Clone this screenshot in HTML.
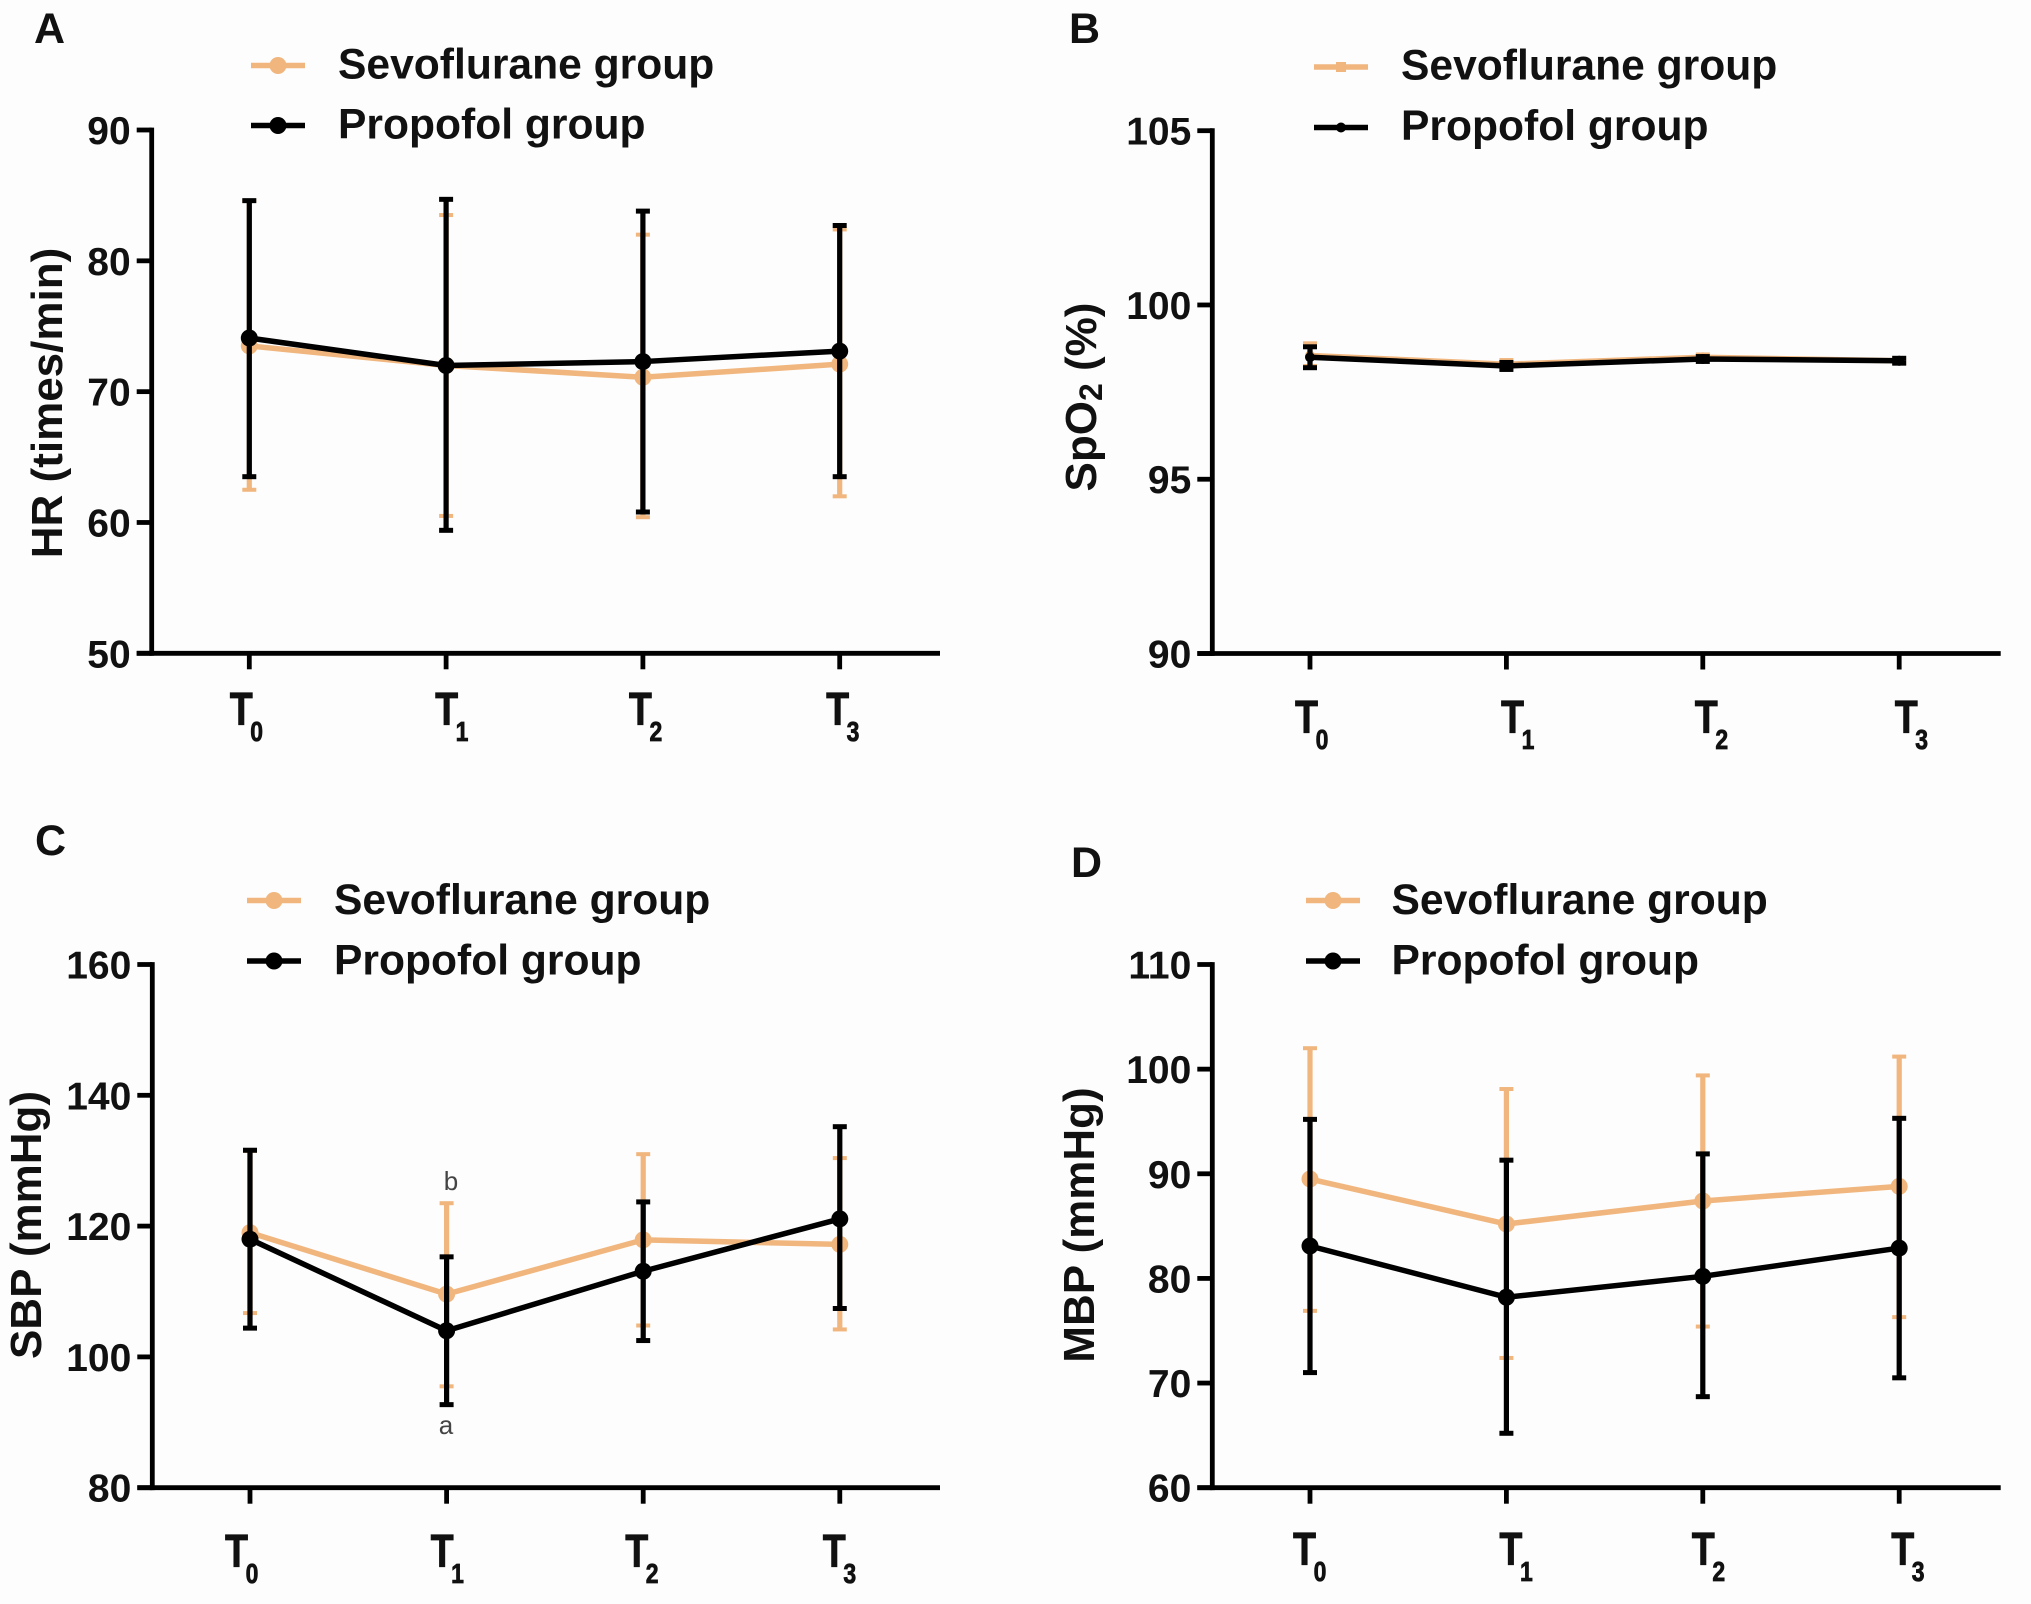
<!DOCTYPE html>
<html lang="en">
<head>
<meta charset="utf-8">
<title>Hemodynamic comparison of sevoflurane and propofol groups</title>
<style>
html,body{margin:0;padding:0;background:#fdfdfd;}
svg{display:block;}
text{font-family:"Liberation Sans",sans-serif;font-weight:bold;fill:#111;}
.legend-text{font-size:42.6px;}
.axis-title{font-size:44px;text-anchor:middle;}
.panel-letter{font-size:43px;}
.tick{font-size:39px;text-anchor:end;}
.note{font-size:26px;font-weight:normal;fill:#444;text-anchor:middle;}
</style>
</head>
<body>
<svg id="figure" xmlns="http://www.w3.org/2000/svg" width="2031" height="1604" viewBox="0 0 2031 1604">
  <rect x="0" y="0" width="2031" height="1604" fill="#fdfdfd"/>

  <g id="panel-a">
    <text class="panel-letter" x="34" y="43">A</text>
    <g>
      <line x1="251" x2="305" y1="65.5" y2="65.5" stroke="#f0b67e" stroke-width="5.5"/>
      <circle cx="278" cy="65.5" r="8.5" fill="#f0b67e"/>
      <text class="legend-text" x="338" y="78.5">Sevoflurane group</text>
      <line x1="251" x2="305" y1="125.5" y2="125.5" stroke="#000" stroke-width="5.5"/>
      <circle cx="278" cy="125.5" r="8.5" fill="#000"/>
      <text class="legend-text" x="338" y="138.5">Propofol group</text>
    </g>
    <text class="axis-title" transform="translate(62,403) rotate(-90)">HR (times/min)</text>
  </g>

  <g id="panel-b">
    <text class="panel-letter" x="1069" y="43">B</text>
    <g>
      <line x1="1314" x2="1368" y1="67" y2="67" stroke="#f0b67e" stroke-width="5.5"/>
      <rect x="1336" y="62" width="10" height="10" fill="#f0b67e"/>
      <text class="legend-text" x="1401" y="79.5">Sevoflurane group</text>
      <line x1="1314" x2="1368" y1="127.5" y2="127.5" stroke="#000" stroke-width="5.5"/>
      <circle cx="1341" cy="127.5" r="5" fill="#000"/>
      <text class="legend-text" x="1401" y="140">Propofol group</text>
    </g>
    <text class="axis-title" transform="translate(1096,397) rotate(-90)">SpO<tspan font-size="32" dy="6">2</tspan><tspan dy="-6"> (%)</tspan></text>
  </g>

  <g id="panel-c">
    <text class="panel-letter" x="35" y="855">C</text>
    <g>
      <line x1="247" x2="301" y1="900.5" y2="900.5" stroke="#f0b67e" stroke-width="5.5"/>
      <circle cx="274" cy="900.5" r="8.5" fill="#f0b67e"/>
      <text class="legend-text" x="334" y="914">Sevoflurane group</text>
      <line x1="247" x2="301" y1="961" y2="961" stroke="#000" stroke-width="5.5"/>
      <circle cx="274" cy="961" r="8.5" fill="#000"/>
      <text class="legend-text" x="334" y="974.5">Propofol group</text>
    </g>
    <text class="axis-title" transform="translate(41,1225) rotate(-90)">SBP (mmHg)</text>
    <text class="note" x="451" y="1190">b</text>
    <text class="note" x="446" y="1434">a</text>
  </g>

  <g id="panel-d">
    <text class="panel-letter" x="1071" y="877">D</text>
    <g>
      <line x1="1306" x2="1360" y1="900.5" y2="900.5" stroke="#f0b67e" stroke-width="5.5"/>
      <circle cx="1333" cy="900.5" r="8.5" fill="#f0b67e"/>
      <text class="legend-text" x="1391.5" y="914">Sevoflurane group</text>
      <line x1="1306" x2="1360" y1="961" y2="961" stroke="#000" stroke-width="5.5"/>
      <circle cx="1333" cy="961" r="8.5" fill="#000"/>
      <text class="legend-text" x="1391.5" y="974.5">Propofol group</text>
    </g>
    <text class="axis-title" font-size="43" transform="translate(1094,1225) rotate(-90)">MBP (mmHg)</text>
  </g>
</svg>

<script>
// ---- Shared categories ----
const categories = ['T0', 'T1', 'T2', 'T3'];

// ---- Panel A: HR ----
const hrTicks = [50, 60, 70, 80, 90];
const hrSevoMean = [73.5, 72.0, 71.1, 72.1];
const hrSevoUpper = [84.6, 83.5, 82.0, 82.4];
const hrSevoLower = [62.5, 60.5, 60.4, 62.0];
const hrPropMean = [74.1, 72.0, 72.3, 73.1];
const hrPropUpper = [84.6, 84.7, 83.8, 82.7];
const hrPropLower = [63.5, 59.4, 60.8, 63.5];

// ---- Panel B: SpO2 ----
const spo2Ticks = [90, 95, 100, 105];
const spo2SevoMean = [98.55, 98.3, 98.5, 98.4];
const spo2SevoUpper = [98.9, 98.42, 98.58, 98.47];
const spo2SevoLower = [98.25, 98.18, 98.42, 98.33];
const spo2PropMean = [98.5, 98.25, 98.45, 98.4];
const spo2PropUpper = [98.8, 98.35, 98.52, 98.47];
const spo2PropLower = [98.2, 98.15, 98.38, 98.33];

// ---- Panel C: SBP ----
const sbpTicks = [80, 100, 120, 140, 160];
const sbpSevoMean = [119.0, 109.6, 117.9, 117.2];
const sbpSevoUpper = [131.5, 123.5, 131.0, 130.4];
const sbpSevoLower = [106.7, 95.5, 104.8, 104.2];
const sbpPropMean = [118.0, 104.0, 113.1, 121.1];
const sbpPropUpper = [131.6, 115.3, 123.7, 135.2];
const sbpPropLower = [104.4, 92.7, 102.5, 107.4];

// ---- Panel D: MBP ----
const mbpTicks = [60, 70, 80, 90, 100, 110];
const mbpSevoMean = [89.5, 85.2, 87.4, 88.8];
const mbpSevoUpper = [102.0, 98.1, 99.4, 101.2];
const mbpSevoLower = [76.9, 72.4, 75.4, 76.3];
const mbpPropMean = [83.1, 78.2, 80.2, 82.9];
const mbpPropUpper = [95.2, 91.3, 91.9, 95.3];
const mbpPropLower = [71.0, 65.2, 68.7, 70.5];

const SVG_NS = 'http://www.w3.org/2000/svg';
const SEVO_COLOR = '#f0b67e';
const PROP_COLOR = '#000000';

function make(tag, props, parent) {
  const node = document.createElementNS(SVG_NS, tag);
  Object.keys(props).forEach(function (k) { node.setAttribute(k, props[k]); });
  parent.appendChild(node);
  return node;
}

function drawPanel(cfg) {
  const root = document.getElementById(cfg.id);
  const domainMin = cfg.ticks[0];
  const domainMax = cfg.ticks[cfg.ticks.length - 1];
  const yScale = function (v) {
    return cfg.yBottom - (v - domainMin) / (domainMax - domainMin) * (cfg.yBottom - cfg.yTop);
  };
  const xScale = function (i) {
    return cfg.xFirst + i * cfg.xStep;
  };

  // axes
  const axisY = make('line', {x1: cfg.axisX, x2: cfg.axisX, y1: yScale(domainMax) - 2.4, y2: yScale(domainMin) + 2.4, stroke: '#000', 'stroke-width': 4.8}, root);
  
  
  const axisX = make('line', {x1: cfg.axisX - 15, x2: cfg.axisRight, y1: yScale(domainMin), y2: yScale(domainMin), stroke: '#000', 'stroke-width': 4.8}, root);
  
  

  cfg.ticks.forEach(function (t) {
    const mark = make('line', {x1: cfg.axisX - 15, x2: cfg.axisX, y1: yScale(t), y2: yScale(t), stroke: '#000', 'stroke-width': 4.8}, root);
    
    
    const label = make('text', {class: 'tick', x: cfg.axisX - 21, y: yScale(t) + 14}, root);
    
    
    label.textContent = String(t);
  });

  categories.forEach(function (c, i) {
    const mark = make('line', {x1: xScale(i), x2: xScale(i), y1: yScale(domainMin), y2: yScale(domainMin) + 16, stroke: '#000', 'stroke-width': 4.8}, root);
    
    
    const label = make('text', {transform: 'translate(' + (xScale(i) + cfg.labelDx[i]) + ',' + cfg.labelY + ') scale(0.82,1)', 'font-size': 46, stroke: '#111', 'stroke-width': 0.8}, root);
    
    
    const base = make('tspan', {}, label);
    base.textContent = c.charAt(0);
    const sub = make('tspan', {'font-size': 28, dy: 16, dx: -3}, label);
    sub.textContent = c.slice(1);
  });

  function drawSeries(name, color, mean, upper, lower, capWidth, markerR) {
    const group = make('g', {}, root);
    
    

    mean.forEach(function (m, i) {
      const x = xScale(i);
      const bar = make('line', {x1: x, x2: x, y1: yScale(upper[i]), y2: yScale(lower[i]), stroke: color, 'stroke-width': 5.2}, group);
      
      
      const capTop = make('line', {x1: x - 7, x2: x + 7, y1: yScale(upper[i]), y2: yScale(upper[i]), stroke: color, 'stroke-width': capWidth}, group);
      
      
      const capBottom = make('line', {x1: x - 7, x2: x + 7, y1: yScale(lower[i]), y2: yScale(lower[i]), stroke: color, 'stroke-width': capWidth}, group);
      
      
    });

    const pts = mean.map(function (m, i) { return xScale(i) + ',' + yScale(m); }).join(' ');
    const line = make('polyline', {points: pts, fill: 'none', stroke: color, 'stroke-width': 5.5, 'stroke-linejoin': 'round'}, group);
    
    

    mean.forEach(function (m, i) {
      const dot = make('circle', {cx: xScale(i), cy: yScale(m), r: markerR, fill: color}, group);
      
      
    });
  }

  drawSeries('sevoflurane', SEVO_COLOR, cfg.sevoMean, cfg.sevoUpper, cfg.sevoLower, 4, cfg.markerR);
  drawSeries('propofol', PROP_COLOR, cfg.propMean, cfg.propUpper, cfg.propLower, 5, cfg.markerR);
}

drawPanel({id: 'panel-a', ticks: hrTicks, axisX: 151.7, axisRight: 940, xFirst: 249.3, xStep: 196.8, yTop: 130, yBottom: 653.3,
  labelY: 725, labelDx: [-19.6, -11, -14, -13.6], markerR: 8.5,
  sevoMean: hrSevoMean, sevoUpper: hrSevoUpper, sevoLower: hrSevoLower,
  propMean: hrPropMean, propUpper: hrPropUpper, propLower: hrPropLower});

drawPanel({id: 'panel-b', ticks: spo2Ticks, axisX: 1212.3, axisRight: 2000.7, xFirst: 1310, xStep: 196.4, yTop: 130.7, yBottom: 653.5,
  labelY: 733, labelDx: [-15, -5.4, -8, -4.5], markerR: 5,
  sevoMean: spo2SevoMean, sevoUpper: spo2SevoUpper, sevoLower: spo2SevoLower,
  propMean: spo2PropMean, propUpper: spo2PropUpper, propLower: spo2PropLower});

drawPanel({id: 'panel-c', ticks: sbpTicks, axisX: 152.3, axisRight: 940, xFirst: 250, xStep: 196.6, yTop: 964.5, yBottom: 1487.7,
  labelY: 1567, labelDx: [-25, -16, -18, -17], markerR: 8.5,
  sevoMean: sbpSevoMean, sevoUpper: sbpSevoUpper, sevoLower: sbpSevoLower,
  propMean: sbpPropMean, propUpper: sbpPropUpper, propLower: sbpPropLower});

drawPanel({id: 'panel-d', ticks: mbpTicks, axisX: 1212.3, axisRight: 2000.7, xFirst: 1310, xStep: 196.4, yTop: 964.5, yBottom: 1487.7,
  labelY: 1565, labelDx: [-17, -7, -11, -8], markerR: 8.5,
  sevoMean: mbpSevoMean, sevoUpper: mbpSevoUpper, sevoLower: mbpSevoLower,
  propMean: mbpPropMean, propUpper: mbpPropUpper, propLower: mbpPropLower});
</script>
</body>
</html>
